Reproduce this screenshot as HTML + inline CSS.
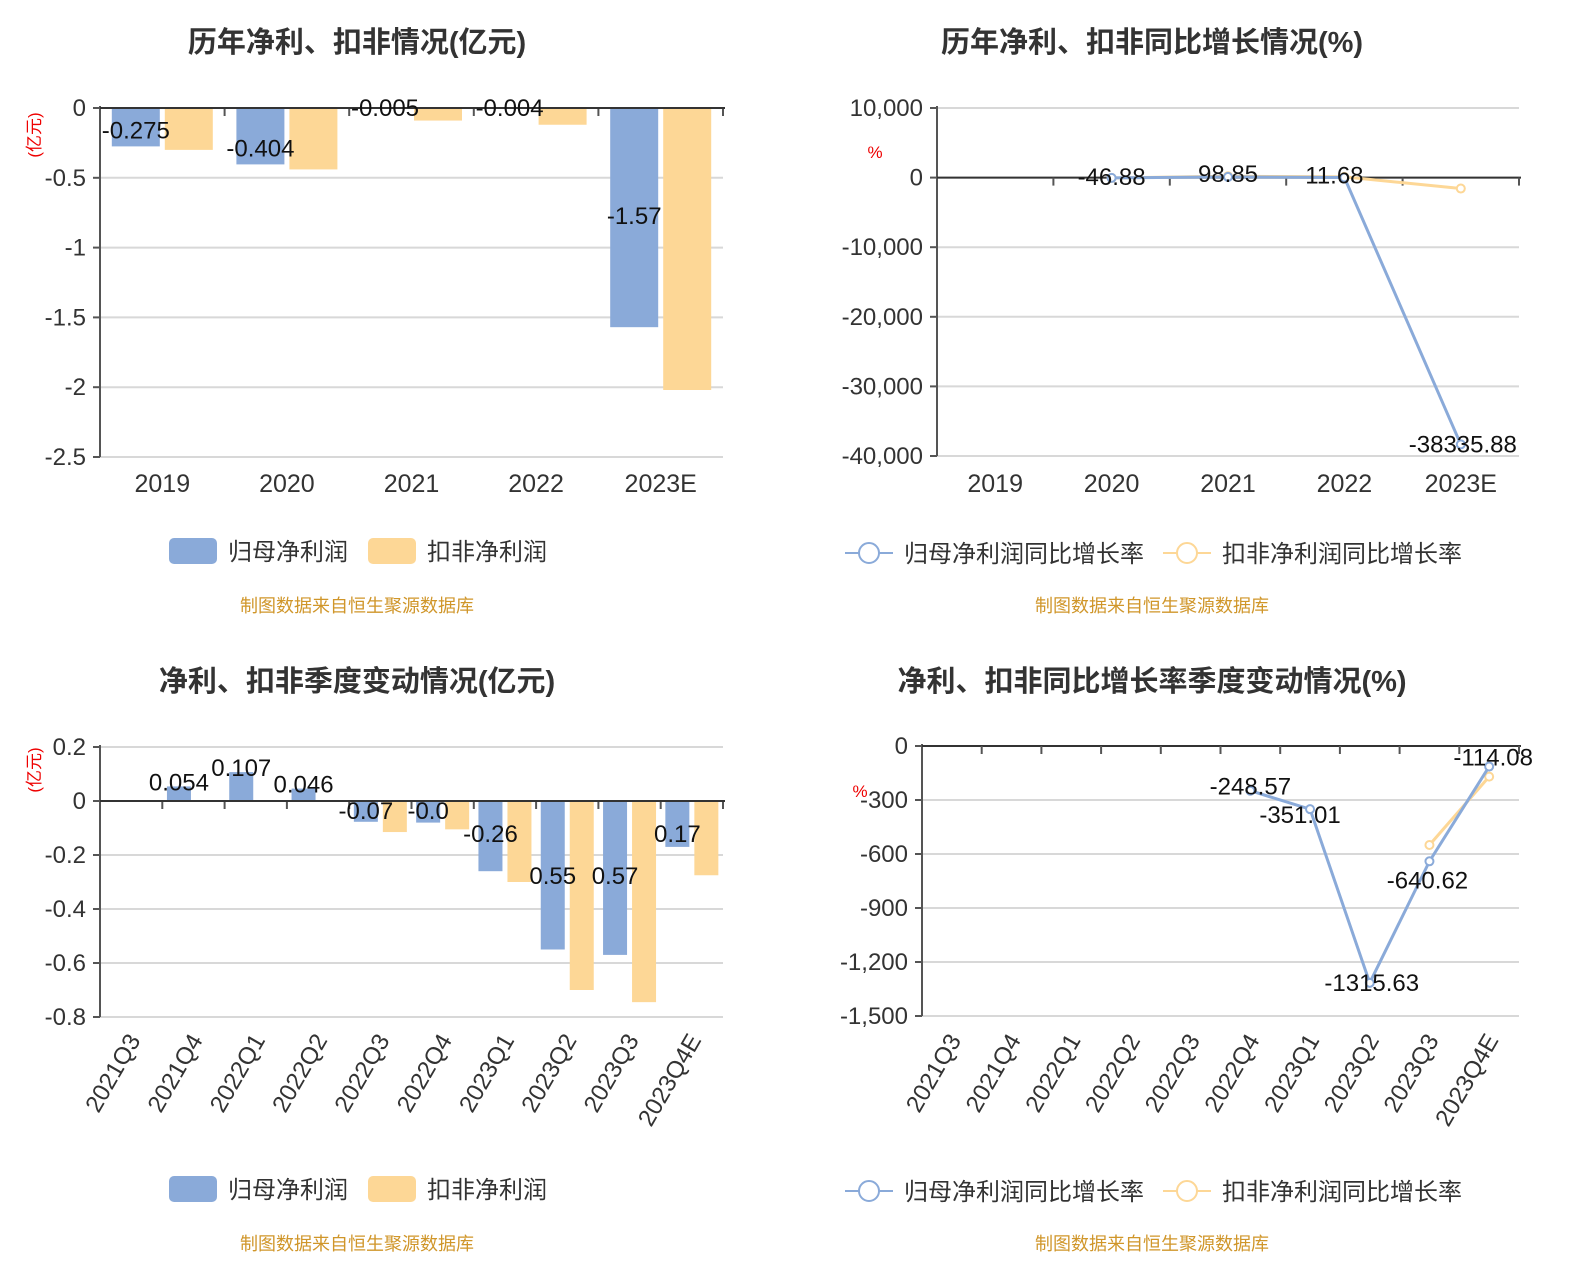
<!DOCTYPE html>
<html><head><meta charset="utf-8"><style>
body{margin:0;background:#fff;}
svg{display:block;font-family:"Liberation Sans","Noto Sans CJK SC",sans-serif;}
</style></head><body>
<svg id="s" width="1578" height="1285" viewBox="0 0 1578 1285"></svg>
<script>
// Chart 1 data
const c1Cats=["2019","2020","2021","2022","2023E"];
const c1Net=[-0.275,-0.404,-0.005,-0.004,-1.57];
const c1Ded=[-0.30,-0.44,-0.09,-0.12,-2.02];
const c1Labels=["-0.275","-0.404","-0.005","-0.004","-1.57"];
const c1Ticks=[0,-0.5,-1,-1.5,-2,-2.5];
const c1TickLabels=["0","-0.5","-1","-1.5","-2","-2.5"];
// Chart 2 data
const c2Cats=["2019","2020","2021","2022","2023E"];
const c2Net=[null,-46.88,98.85,11.68,-38335.88];
const c2Ded=[null,-50,200,100,-1570];
const c2Labels=["","-46.88","98.85","11.68","-38335.88"];
const c2Ticks=[10000,0,-10000,-20000,-30000,-40000];
const c2TickLabels=["10,000","0","-10,000","-20,000","-30,000","-40,000"];
// Chart 3 data
const c3Cats=["2021Q3","2021Q4","2022Q1","2022Q2","2022Q3","2022Q4","2023Q1","2023Q2","2023Q3","2023Q4E"];
const c3Net=[0,0.054,0.107,0.046,-0.077,-0.08,-0.26,-0.55,-0.57,-0.17];
const c3Ded=[null,null,null,null,-0.115,-0.105,-0.30,-0.70,-0.745,-0.275];
const c3Labels=["","0.054","0.107","0.046","-0.07","-0.0","-0.26","0.55","0.57","0.17"];
const c3Ticks=[0.2,0,-0.2,-0.4,-0.6,-0.8];
const c3TickLabels=["0.2","0","-0.2","-0.4","-0.6","-0.8"];
// Chart 4 data
const c4Cats=c3Cats;
const c4Net=[null,null,null,null,null,-248.57,-351.01,-1315.63,-640.62,-114.08];
const c4Ded=[null,null,null,null,null,null,null,null,-550,-170];
const c4Labels=["","","","","","-248.57","-351.01","-1315.63","-640.62","-114.08"];
const c4Ticks=[0,-300,-600,-900,-1200,-1500];
const c4TickLabels=["0","-300","-600","-900","-1,200","-1,500"];

const NS="http://www.w3.org/2000/svg";
const S=document.getElementById('s');
const BLUE="#8aaad9",ORANGE="#fdd796";
function el(tag,attrs,parent,text){const e=document.createElementNS(NS,tag);for(const k in attrs)e.setAttribute(k,attrs[k]);if(text!==undefined)e.textContent=text;(parent||S).appendChild(e);return e;}

function title(x,y,t,name){const e=el('text',{x:x,y:y,'text-anchor':'middle','font-size':29,'font-weight':'bold',fill:'#333'},S,t);

}
function source(x,y){const e=el('text',{x:x,y:y,'text-anchor':'middle','font-size':18,fill:'#d0962a'},S,'制图数据来自恒生聚源数据库');

}

function axes(g,x0,x1,yFn,ticks,labels,zeroY,ncat,yTop,yBot,unit,unitX,unitY,unitRot){
  ticks.forEach((t,i)=>{const y=yFn(t);
    el('line',{x1:x0,x2:x1,y1:y,y2:y,stroke:'#d8d8d8','stroke-width':2},g);
    el('line',{x1:x0-7,x2:x0,y1:y,y2:y,stroke:'#555','stroke-width':2},g);
    const tl=el('text',{x:x0-14,y:y+8,'text-anchor':'end','font-size':24,fill:'#333'},g,labels[i]);
    
    
  });
  const ya=el('line',{x1:x0,x2:x0,y1:yTop,y2:yBot,stroke:'#555','stroke-width':2},g);
  
  
  const xa=el('line',{x1:x0,x2:x1+2,y1:zeroY,y2:zeroY,stroke:'#333','stroke-width':2},g);
  
  
  const w=(x1-x0)/ncat;
  for(let i=1;i<=ncat;i++){el('line',{x1:x0+i*w,x2:x0+i*w,y1:zeroY,y2:zeroY+8,stroke:'#555','stroke-width':2},g);}
  const u=el('text',{x:unitX,y:unitY,'font-size':17,fill:'#e00','text-anchor':'middle',transform:unitRot?`rotate(-90 ${unitX} ${unitY})`:''},g,unit);
  
  
}
function xLabels(g,x0,w,cats,y,rot){cats.forEach((c,i)=>{const cx=x0+w*(i+0.5);
  const t=rot?el('text',{x:cx+10,y:y,'text-anchor':'end','font-size':24,fill:'#333',transform:`rotate(-60 ${cx+10} ${y})`},g,c)
            :el('text',{x:cx,y:y,'text-anchor':'middle','font-size':25,fill:'#333'},g,c);
  
  });}

function barLegend(g,y){
  const a=el('rect',{x:169,y:y-13,width:48,height:26,rx:5,fill:BLUE},g);
  el('text',{x:228,y:y+9,'font-size':24,fill:'#333'},g,'归母净利润');
  const b=el('rect',{x:368,y:y-13,width:48,height:26,rx:5,fill:ORANGE},g);
  el('text',{x:427,y:y+9,'font-size':24,fill:'#333'},g,'扣非净利润');
  
  
  
  
}
function lineLegend(g,y){
  el('line',{x1:845,x2:893,y1:y,y2:y,stroke:BLUE,'stroke-width':2},g);
  const a=el('circle',{cx:869,cy:y,r:10,fill:'#fff',stroke:BLUE,'stroke-width':2},g);
  el('text',{x:904,y:y+9,'font-size':24,fill:'#333'},g,'归母净利润同比增长率');
  el('line',{x1:1163,x2:1211,y1:y,y2:y,stroke:ORANGE,'stroke-width':2},g);
  const b=el('circle',{cx:1187,cy:y,r:10,fill:'#fff',stroke:ORANGE,'stroke-width':2},g);
  el('text',{x:1222,y:y+9,'font-size':24,fill:'#333'},g,'扣非净利润同比增长率');
  
  
  
  
}

function barChart(name,x0,x1,vTop,yTop,vBot,yBot,cats,net,ded,labels,ticks,tl,bw,gap,rot,labY,unitY){
  const g=el('g',{},S);
  
  
  const yFn=v=>yTop+(v-vTop)*(yBot-yTop)/(vBot-vTop);
  const n=cats.length,w=(x1-x0)/n;
  axes(g,x0,x1,yFn,ticks,tl,yFn(0),n,yTop-2,yBot,'(亿元)',40,unitY,true);
  cats.forEach((c,i)=>{const cx=x0+w*(i+0.5);
    if(net[i]!==null){const y0=yFn(0),y1=yFn(net[i]);
      const r=el('rect',{x:cx-gap/2-bw,y:Math.min(y0,y1),width:bw,height:Math.abs(y1-y0),fill:BLUE},g);
      
      }
    if(ded[i]!==null){const y0=yFn(0),y1=yFn(ded[i]);
      const r=el('rect',{x:cx+gap/2,y:Math.min(y0,y1),width:bw,height:Math.abs(y1-y0),fill:ORANGE},g);
      
      }
  });
  el('line',{x1:x0,x2:x1+2,y1:yFn(0),y2:yFn(0),stroke:'#333','stroke-width':2},g);
  cats.forEach((c,i)=>{if(!labels[i])return;const cx=x0+w*(i+0.5)-gap/2-bw/2;
    const v=net[i];let y=v>=0?yFn(v)+4:labY(v,yFn);
    const t=el('text',{x:cx,y:y,'text-anchor':'middle','font-size':24,fill:'#111'},g,labels[i]);
    
    });
  xLabels(g,x0,w,cats,rot?1040:492,rot);
  return g;
}

function lineChart(name,x0,x1,vTop,yTop,vBot,yBot,cats,net,ded,labels,ticks,tl,rot,unitX,unitY,labOff){
  const g=el('g',{},S);
  
  
  const yFn=v=>yTop+(v-vTop)*(yBot-yTop)/(vBot-vTop);
  const n=cats.length,w=(x1-x0)/n;
  axes(g,x0,x1,yFn,ticks,tl,yFn(0),n,yTop-2,yBot,'%',unitX,unitY,false);
  [[ded,ORANGE,'deducted'],[net,BLUE,'net']].forEach(([arr,col,nm])=>{
    let pts=[];arr.forEach((v,i)=>{if(v!==null)pts.push([x0+w*(i+0.5),yFn(v)]);});
    const p=el('polyline',{points:pts.map(p=>p.join(',')).join(' '),fill:'none',stroke:col,'stroke-width':3},g);
    
    
    pts.forEach(pt=>{const c=el('circle',{cx:pt[0],cy:pt[1],r:4,fill:'#fff',stroke:col,'stroke-width':2},g);
      
      });
  });
  labels.forEach((l,i)=>{if(!l)return;const cx=x0+w*(i+0.5);
    const t=el('text',{x:cx+labOff[i][0],y:yFn(net[i])+labOff[i][1],'text-anchor':'middle','font-size':24,fill:'#111'},g,l);
    
    });
  xLabels(g,x0,w,cats,rot?1040:492,rot);
}

title(357,52,'历年净利、扣非情况(亿元)','chart1-title');
title(1152,52,'历年净利、扣非同比增长情况(%)','chart2-title');
title(357,691,'净利、扣非季度变动情况(亿元)','chart3-title');
title(1152,691,'净利、扣非同比增长率季度变动情况(%)','chart4-title');

barChart('annual-profit-chart',100,723,0,108,-2.5,457,c1Cats,c1Net,c1Ded,c1Labels,c1Ticks,c1TickLabels,48,5,false,
  (v,f)=> v>-0.1?116:(v<-1?224:f(v)-8),135);
barChart('quarterly-profit-chart',100,723,0.2,747,-0.8,1017,c3Cats,c3Net,c3Ded,c3Labels,c3Ticks,c3TickLabels,24,5,true,
  (v,f)=> v>-0.1?819:(v>-0.3?842:(v>-0.4?830:884)),770);
lineChart('annual-growth-chart',937,1519,10000,108,-40000,456,c2Cats,c2Net,c2Ded,c2Labels,c2Ticks,c2TickLabels,false,875,158,
  [[0,0],[0,7],[0,5],[-10,6],[2,8]]);
lineChart('quarterly-growth-chart',922,1519,0,746,-1500,1016,c4Cats,c4Net,c4Ded,c4Labels,c4Ticks,c4TickLabels,true,860,797,
  [[0,0],[0,0],[0,0],[0,0],[0,0],[0,4],[-10,14],[2,8],[-2,27],[4,-1]]);

const lg1=el('g',{},S);barLegend(lg1,551);
const lg2=el('g',{},S);barLegend(lg2,1189);
const lg3=el('g',{},S);lineLegend(lg3,553);
const lg4=el('g',{},S);lineLegend(lg4,1191);
source(357,612);source(1152,612);source(357,1250);source(1152,1250);
</script>
</body></html>
